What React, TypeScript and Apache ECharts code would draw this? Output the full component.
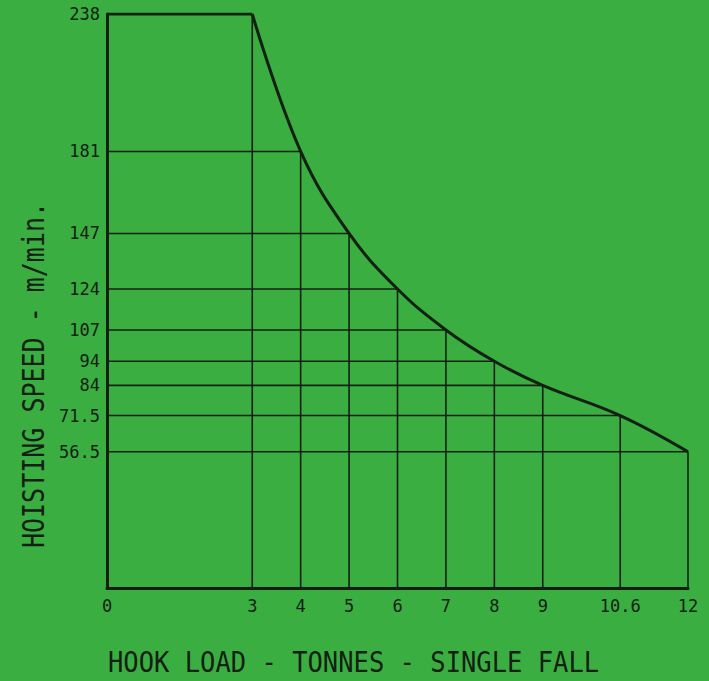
import React, { useEffect, useRef } from "react";
import * as echarts from "echarts";

const loads = [0, 3, 4, 5, 6, 7, 8, 9, 10.6, 12];
const speeds = [238, 238, 181, 147, 124, 107, 94, 84, 71.5, 56.5];
const xTickLabels = [0, 3, 4, 5, 6, 7, 8, 9, 10.6, 12];
const yTickLabels = [238, 181, 147, 124, 107, 94, 84, 71.5, 56.5];
const xTitle = "HOOK LOAD - TONNES - SINGLE FALL";
const yTitle = "HOISTING SPEED - m/min.";

const BG = "#3bae42";
const INK = "#132013";
const FONT = "'DejaVu Sans Mono', 'Liberation Mono', monospace";

export default function App() {
  const ref = useRef<HTMLDivElement>(null);
  useEffect(() => {
    document.body.style.margin = "0";
    const chart = echarts.init(ref.current!, null, { renderer: "svg" });
    const pts = loads.map((x, i) => [x, speeds[i]]);
    const gridSeries: any[] = [];
    pts.forEach(([x, y], i) => {
      if (i === 0) return;
      gridSeries.push({
        type: "line",
        data: [[x, 0], [x, y]],
        symbol: "none",
        silent: true,
        z: 1,
        lineStyle: { color: INK, width: 1.6 },
      });
      if (i > 1) {
        gridSeries.push({
          type: "line",
          data: [[0, y], [x, y]],
          symbol: "none",
          silent: true,
          z: 1,
          lineStyle: { color: INK, width: 1.6 },
        });
      }
    });
    const near = (v: number, arr: number[]) => arr.find((t) => Math.abs(t - v) < 1e-6);
    chart.setOption({
      animation: false,
      backgroundColor: BG,
      grid: { left: 107, top: 14, width: 581, height: 574 },
      xAxis: {
        type: "value",
        min: 0,
        max: 12,
        interval: 0.2,
        axisLine: { show: true, lineStyle: { color: INK, width: 3 } },
        axisTick: { show: false },
        splitLine: { show: false },
        axisLabel: {
          margin: 9,
          color: INK,
          fontFamily: FONT,
          fontSize: 17,
          formatter: (v: number) => {
            const t = near(v, xTickLabels);
            return t === undefined ? "" : String(t);
          },
        },
      },
      yAxis: {
        type: "value",
        min: 0,
        max: 238,
        interval: 0.5,
        axisLine: { show: true, lineStyle: { color: INK, width: 3 } },
        axisTick: { show: false },
        splitLine: { show: false },
        axisLabel: {
          margin: 7,
          color: INK,
          fontFamily: FONT,
          fontSize: 17,
          formatter: (v: number) => {
            const t = near(v, yTickLabels);
            return t === undefined ? "" : String(t);
          },
        },
      },
      series: [
        ...gridSeries,
        {
          type: "line",
          data: pts.slice(0, 2),
          symbol: "none",
          z: 3,
          lineStyle: { color: INK, width: 3 },
        },
        {
          type: "line",
          data: pts.slice(1),
          smooth: 0.4,
          symbol: "none",
          z: 3,
          lineStyle: { color: INK, width: 3 },
        },
      ],
      graphic: [
        {
          type: "text",
          x: 108,
          y: 662,
          scaleY: 1.1,
          style: {
            text: xTitle,
            fill: INK,
            font: `25.5px ${FONT}`,
            lineHeight: 26,
            align: "left",
            verticalAlign: "middle",
          },
        },
        {
          type: "text",
          x: 34,
          y: 375,
          rotation: Math.PI / 2,
          scaleY: 1.2,
          style: {
            text: yTitle,
            fill: INK,
            font: `25px ${FONT}`,
            align: "center",
            verticalAlign: "middle",
          },
        },
      ],
    });
    return () => chart.dispose();
  }, []);
  return <div ref={ref} style={{ width: 709, height: 681 }} />;
}
